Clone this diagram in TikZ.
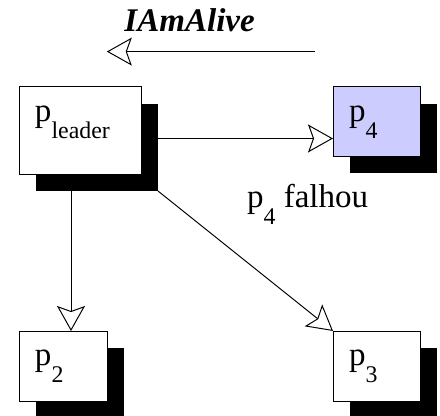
\documentclass[tikz,border=0pt]{standalone}
\usepackage{fontspec}
\setmainfont{Liberation Serif}
\usetikzlibrary{arrows.meta}
\definecolor{Lavender}{RGB}{204,204,255}
\newcommand{\procsub}[1]{\raisebox{-.425cm}{\fontsize{17pt}{17pt}\selectfont #1}}
\tikzset{
	proc/.style={draw, fill=white, line width=.7pt, anchor=north west, outer sep=0pt, inner sep=0pt, inner xsep=.4cm, align=left, text height=.875cm},
	shadowbox/.style={fill=black, anchor=north west, outer sep=0pt, inner sep=0pt},
	msg/.style={line width=.7pt, -{Stealth[open, length=.625cm, width=.7cm, inset=.125cm]}}
}

\begin{document}
\begin{tikzpicture}[font=\fontsize{23.5pt}{28pt}\selectfont]

	\useasboundingbox (0,0) rectangle (11,10.4);

	\node[shadowbox, minimum width=3.05cm, minimum height=2.175cm] (ldrsh) at (.9,7.8) {};
	\node[shadowbox, minimum width=2.175cm, minimum height=1.725cm] (p4sh) at (8.75,7.8) {};
	\node[shadowbox, minimum width=2.2cm, minimum height=1.75cm] (p2sh) at (.9,1.7) {};
	\node[shadowbox, minimum width=2.175cm, minimum height=1.75cm] (p3sh) at (8.75,1.7) {};

	\node[proc, minimum width=3.05cm, minimum height=2.175cm, text width=2.25cm, text depth=1.3cm] (ldr) at ([shift={(-.425,.425)}]ldrsh.north west) {p\procsub{leader}};
	\node[proc, fill=Lavender, minimum width=2.175cm, minimum height=1.725cm, text width=1.375cm, text depth=.85cm] (p4) at ([shift={(-.425,.425)}]p4sh.north west) {p\procsub{4}};
	\node[proc, minimum width=2.2cm, minimum height=1.75cm, text width=1.4cm, text depth=.875cm] (p2) at ([shift={(-.425,.425)}]p2sh.north west) {p\procsub{2}};
	\node[proc, minimum width=2.175cm, minimum height=1.75cm, text width=1.375cm, text depth=.875cm] (p3) at ([shift={(-.425,.425)}]p3sh.north west) {p\procsub{3}};

	\node[anchor=base] (alive) at (4.74,9.61) {\textbf{\textit{IAmAlive}}};
	\coordinate (aliveA) at (7.875,9.11);
	\coordinate (aliveB) at (2.67,9.11);
	\draw[msg] (aliveA) -- (aliveB);

	\node[anchor=base west, inner sep=0pt] (fail) at (6.17,5.2) {p\procsub{4} falhou};

	\draw[msg] (ldrsh.east |- p4sh.center) -- (p4.west |- p4sh.center);
	\coordinate (p2in) at ([xshift=.2cm]p2.north);
	\draw[msg] (ldrsh.south -| p2in) -- (p2in);
	\draw[msg] (ldrsh.south east) -- (p3.north west);

\end{tikzpicture}
\end{document}
